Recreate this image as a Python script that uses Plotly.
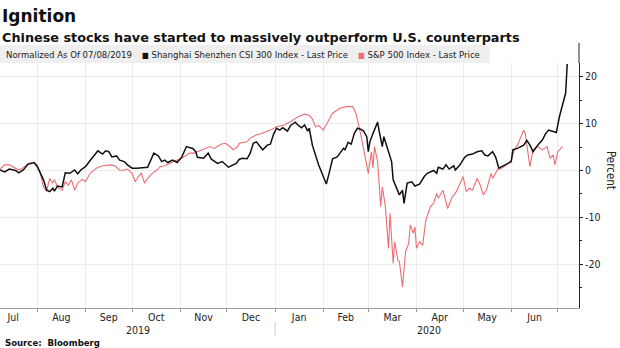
import pandas as pd
import plotly.graph_objects as go

START = pd.Timestamp("2019-07-08")

# Days since 2019-07-08 and percent change (normalized)
csi_days = [0, 3, 6, 10, 12, 15, 18, 22, 24, 28, 30, 32, 34, 35, 37, 40, 42, 45, 48, 50, 52, 55, 57, 60, 63, 66, 68, 70, 72, 75, 77, 80, 82, 85, 88, 95, 97, 99, 102, 104, 106, 108, 111, 114, 117, 120, 124, 126, 127, 131, 134, 136, 140, 143, 147, 150, 152, 154, 156, 159, 161, 163, 165, 169, 172, 174, 176, 178, 180, 182, 185, 187, 190, 192, 194, 196, 198, 199, 201, 205, 210, 212, 214, 217, 219, 221, 222, 224, 226, 228, 230, 232, 234, 236, 237, 238, 240, 243, 244, 246, 247, 250, 252, 253, 255, 257, 259, 260, 262, 264, 265, 267, 270, 273, 275, 279, 281, 282, 285, 287, 289, 292, 293, 296, 299, 301, 304, 307, 310, 312, 314, 317, 319, 321, 324, 326, 329, 330, 333, 337, 339, 341, 343, 346, 349, 351, 353, 356, 358, 360, 362, 364, 365]
csi_vals = [0.1, -0.3, 0.3, 0.0, -0.5, 0.1, 1.3, 1.7, 0.8, -2.0, -4.2, -4.5, -3.8, -4.4, -3.3, -3.5, -0.5, -0.6, 0.1, -0.7, 0.1, 0.8, 1.7, 2.9, 4.2, 3.5, 4.2, 4.0, 2.9, 3.1, 2.2, 1.9, 1.2, 0.5, 0.5, 0.7, 2.2, 3.7, 3.1, 1.9, 2.2, 1.7, 2.2, 1.7, 2.9, 5.1, 4.7, 4.0, 2.8, 2.6, 3.7, 2.4, 1.5, 1.9, 0.7, 1.2, 1.5, 2.4, 2.6, 2.5, 3.7, 5.8, 6.1, 4.4, 5.4, 5.6, 7.7, 9.0, 8.6, 9.1, 8.4, 9.6, 10.3, 9.6, 9.1, 9.7, 8.4, 9.0, 5.4, 1.2, -2.9, -0.3, 2.5, 2.9, 3.7, 4.7, 4.4, 6.0, 5.6, 7.9, 9.0, 8.8, 8.4, 7.2, 4.0, 6.1, 7.9, 10.3, 8.4, 5.1, 7.2, 4.0, 1.9, -2.0, -3.5, -5.2, -4.2, -7.0, -2.7, -2.5, -2.4, -3.3, -2.9, -1.3, -0.6, 0.0, -0.6, 0.7, 0.3, 1.2, 0.3, 1.0, 0.1, 1.2, 2.8, 3.3, 3.5, 4.0, 4.2, 3.3, 3.1, 4.0, 2.8, 0.5, 1.0, 1.5, 1.9, 4.4, 4.7, 5.4, 6.4, 5.4, 4.0, 5.4, 6.5, 7.8, 8.6, 8.3, 8.1, 11.5, 14.0, 16.5, 22.7]

spx_days = [0, 3, 6, 10, 12, 15, 18, 21, 24, 26, 28, 30, 32, 34, 35, 37, 40, 42, 44, 46, 48, 50, 53, 55, 58, 62, 66, 71, 74, 77, 79, 82, 85, 87, 89, 91, 93, 95, 98, 101, 103, 106, 109, 113, 116, 119, 122, 125, 129, 132, 135, 138, 142, 145, 148, 150, 153, 154, 159, 161, 165, 167, 172, 174, 178, 183, 188, 192, 196, 199, 201, 203, 205, 208, 211, 214, 219, 223, 227, 229, 232, 234, 236, 237, 239, 240, 241, 243, 245, 246, 248, 250, 251, 253, 254, 256, 257, 259, 261, 263, 264, 266, 267, 268, 270, 272, 274, 277, 279, 281, 282, 285, 287, 288, 291, 293, 295, 298, 300, 302, 304, 307, 309, 311, 313, 316, 317, 320, 323, 326, 329, 331, 333, 337, 338, 341, 343, 346, 349, 352, 354, 356, 357, 359, 362]
spx_vals = [0.3, 1.2, 1.2, 0.5, 0.1, 0.6, 1.5, 1.7, 1.2, -0.6, -3.5, -4.4, -1.7, -2.7, -1.9, -3.5, -4.2, -2.4, -3.1, -2.0, -4.2, -2.7, -1.9, -2.4, -0.6, 0.5, 1.0, 1.2, 1.0, 0.1, 0.0, 0.3, -0.6, -2.4, -1.3, -0.6, -2.7, -1.7, -0.6, 0.1, 0.8, 1.0, 1.5, 2.1, 2.4, 3.1, 3.7, 3.7, 4.2, 4.7, 5.1, 4.7, 5.6, 5.8, 5.1, 4.4, 5.1, 5.8, 6.1, 6.9, 7.6, 7.7, 8.3, 8.6, 9.3, 9.7, 10.6, 11.5, 12.0, 11.7, 11.0, 9.3, 9.6, 8.6, 10.4, 12.2, 13.3, 13.6, 13.6, 12.2, 7.9, 4.4, 0.8, -0.6, 4.0, 0.5, 5.1, 1.9, -7.7, -3.5, -7.7, -16.6, -9.1, -19.8, -15.2, -19.1, -19.4, -24.8, -17.3, -15.5, -11.6, -13.4, -12.0, -16.6, -15.2, -15.9, -10.6, -7.7, -7.0, -4.9, -5.9, -4.2, -6.7, -8.1, -5.6, -4.9, -3.5, -1.3, -4.5, -3.8, -4.2, -1.7, -3.1, -5.2, -4.2, -0.6, -1.7, 0.1, 0.5, 1.2, 2.2, 4.4, 5.4, 8.6, 7.9, 0.8, 4.4, 5.1, 4.4, 5.1, 2.6, 3.3, 1.2, 4.0, 5.1]

year_labels = ["2019", "2020"]
year_label_dates = ["2019-10-05", "2020-04-09"]
y_ticks = [-20, -10, 0, 10, 20]

csi_dates = START + pd.to_timedelta(csi_days, unit="D")
spx_dates = START + pd.to_timedelta(spx_days, unit="D")

COND = "DejaVu Sans Condensed, Liberation Sans Narrow, DejaVu Sans, sans-serif"
BOLD = "DejaVu Sans, sans-serif"

fig = go.Figure()
fig.add_trace(go.Scatter(x=spx_dates, y=spx_vals, mode="lines",
                         line=dict(color="#ec6e73", width=1.1), showlegend=False,
                         name="S&P 500 Index - Last Price"))
fig.add_trace(go.Scatter(x=csi_dates, y=csi_vals, mode="lines",
                         line=dict(color="#111111", width=1.5), showlegend=False,
                         name="Shanghai Shenzhen CSI 300 Index - Last Price"))

PT, PB = 63, 308
PH = PB - PT
def py(p):
    return (PB - p) / PH

fig.update_layout(
    width=620, height=348,
    margin=dict(l=0, r=41, t=PT, b=348 - PB),
    paper_bgcolor="white", plot_bgcolor="white",
    xaxis=dict(
        type="date", range=["2019-07-08", "2020-07-14 14:00"],
        dtick="M1", tick0="2019-08-01", tickformat="%b", ticklabelmode="period",
        ticks="outside", ticklen=3, tickcolor="#999999", ticklabelstandoff=-4,
        showline=True, linecolor="#999999", linewidth=1,
        showgrid=True, gridcolor="#ececec", gridwidth=1,
        tickfont=dict(family=COND, size=10.5, color="#222222"),
        zeroline=False,
    ),
    yaxis=dict(
        side="right", range=[-29.3, 22.9],
        tickvals=y_ticks, ticktext=[str(v) for v in y_ticks],
        ticks="outside", ticklen=3, tickcolor="#222222",
        showline=True, linecolor="#222222", linewidth=1,
        showgrid=True, gridcolor="#ececec", gridwidth=1,
        zeroline=False,
        tickfont=dict(family=COND, size=10.5, color="#222222"),
        minor=dict(dtick=5, tick0=0, ticks="outside", ticklen=2, tickcolor="#222222", showgrid=False),
    ),
    font=dict(family=COND),
)

ann = []
ann.append(dict(text="<b>Ignition</b>", x=0, y=py(16), xref="paper", yref="paper",
                xanchor="left", yanchor="middle", showarrow=False,
                font=dict(family=BOLD, size=17, color="#111111")))
ann.append(dict(text="<b>Chinese stocks have started to massively outperform U.S. counterparts</b>",
                x=0, y=py(37), xref="paper", yref="paper", xanchor="left", yanchor="middle",
                showarrow=False, font=dict(family=BOLD, size=12.8, color="#111111")))
ann.append(dict(text="Normalized As Of 07/08/2019", x=4 / 579, y=py(54), xref="paper", yref="paper",
                xanchor="left", yanchor="middle", showarrow=False,
                font=dict(family=COND, size=9.5, color="#222222")))
ann.append(dict(text="<span style='color:#111111;font-size:8px'>■</span> Shanghai Shenzhen CSI 300 Index - Last Price",
                x=140 / 579, y=py(54), xref="paper", yref="paper",
                xanchor="left", yanchor="middle", showarrow=False,
                font=dict(family=COND, size=9.5, color="#222222")))
ann.append(dict(text="<span style='color:#ec6e73;font-size:8px'>■</span> S&P 500 Index - Last Price",
                x=356 / 579, y=py(54), xref="paper", yref="paper",
                xanchor="left", yanchor="middle", showarrow=False,
                font=dict(family=COND, size=9.5, color="#222222")))
for lab, d in zip(year_labels, year_label_dates):
    ann.append(dict(text=lab, x=d, y=py(330), xref="x", yref="paper",
                    xanchor="center", yanchor="middle", showarrow=False,
                    font=dict(family=COND, size=10.5, color="#222222")))
ann.append(dict(text="Percent", x=611 / 579, y=py(171), xref="paper", yref="paper",
                xanchor="center", yanchor="middle", showarrow=False, textangle=90,
                font=dict(family=COND, size=11.5, color="#222222")))
ann.append(dict(text="<b>Source:  Bloomberg</b>", x=3 / 579, y=py(342), xref="paper", yref="paper",
                xanchor="left", yanchor="middle", showarrow=False,
                font=dict(family=COND, size=9.5, color="#111111")))
fig.update_layout(annotations=ann)

fig.add_shape(type="rect", xref="paper", yref="paper", x0=0, x1=490 / 579,
              y0=py(63), y1=py(45), fillcolor="#efefef", line=dict(width=0), layer="below")
fig.add_shape(type="line", xref="paper", yref="paper", x0=1, x1=1, y0=1, y1=py(43),
              line=dict(color="#222222", width=1))
fig.add_shape(type="line", xref="x", yref="paper", x0="2020-01-01", x1="2020-01-01",
              y0=py(322), y1=py(336), line=dict(color="#cccccc", width=1))

fig.write_html("out.html")
